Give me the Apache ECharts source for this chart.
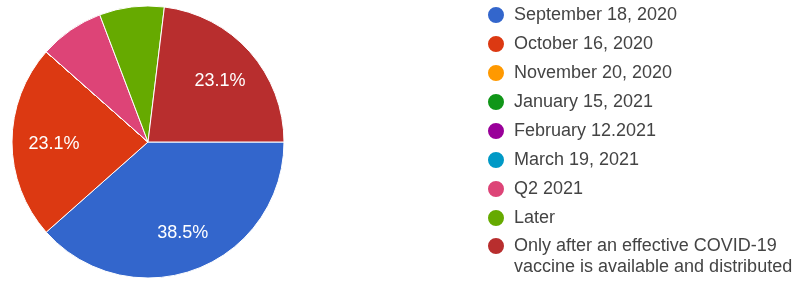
<!DOCTYPE html>
<html>
<head>
<meta charset="utf-8">
<script src="https://cdn.jsdelivr.net/npm/echarts@6/dist/echarts.min.js"></script>
<style>
  html, body { margin: 0; padding: 0; background: #ffffff; }
  #chart { width: 799px; height: 282px; }
</style>
</head>
<body>
<div id="chart"></div>
<script>
// Categories (legend order) and their shares in percent
var categories = [
  'September 18, 2020',
  'October 16, 2020',
  'November 20, 2020',
  'January 15, 2021',
  'February 12.2021',
  'March 19, 2021',
  'Q2 2021',
  'Later',
  'Only after an effective COVID-19 vaccine is available and distributed'
];
var shares = [38.5, 23.1, 0, 0, 0, 0, 7.7, 7.7, 23.1];
var colors = ['#3366cc', '#dc3912', '#ff9900', '#109618', '#990099', '#0099c6', '#dd4477', '#66aa00', '#b82e2e'];

var FONT = '"Liberation Sans", Arial, sans-serif';

var pieData = categories.map(function (c, i) {
  return { name: c, value: shares[i], itemStyle: { color: colors[i] } };
});

var legendText = {
  fontFamily: FONT,
  fontSize: 18,
  lineHeight: 21,
  color: '#444444',
  padding: [0, 0, 0, 4]
};
var legendCommon = {
  orient: 'vertical',
  left: 486,
  height: 400,
  padding: 0,
  itemGap: 8,
  itemWidth: 18,
  itemHeight: 18,
  icon: 'circle',
  selectedMode: false,
  textStyle: legendText
};

var lastName = categories[categories.length - 1];

var chart = echarts.init(document.getElementById('chart'), null, { renderer: 'canvas' });
chart.setOption({
  animation: false,
  backgroundColor: '#ffffff',
  legend: [
    Object.assign({}, legendCommon, {
      top: 4.5,
      data: categories.slice(0, categories.length - 1)
    }),
    Object.assign({}, legendCommon, {
      top: 214.5,
      data: [lastName],
      formatter: function (name) {
        // blank first line keeps the marker level with the first text line
        return '\n' + name.replace(' vaccine', '\nvaccine');
      }
    })
  ],
  series: [
    {
      type: 'pie',
      center: [148, 142],
      radius: [0, 136],
      startAngle: 0,
      clockwise: true,
      silent: true,
      label: { show: false },
      labelLine: { show: false },
      itemStyle: { borderColor: '#ffffff', borderWidth: 1 },
      data: pieData
    },
    {
      type: 'pie',
      center: [148, 142],
      radius: [48, 136],
      startAngle: 0,
      clockwise: true,
      silent: true,
      itemStyle: { color: 'rgba(0,0,0,0)', borderWidth: 0 },
      label: {
        show: true,
        position: 'inside',
        color: '#ffffff',
        fontFamily: FONT,
        fontSize: 18,
        offset: [1, 2.5],
        formatter: function (p) {
          return p.value > 10 ? p.value.toFixed(1) + '%' : '';
        }
      },
      labelLine: { show: false },
      data: categories.map(function (c, i) { return { name: c, value: shares[i] }; })
    }
  ]
});
</script>
</body>
</html>
